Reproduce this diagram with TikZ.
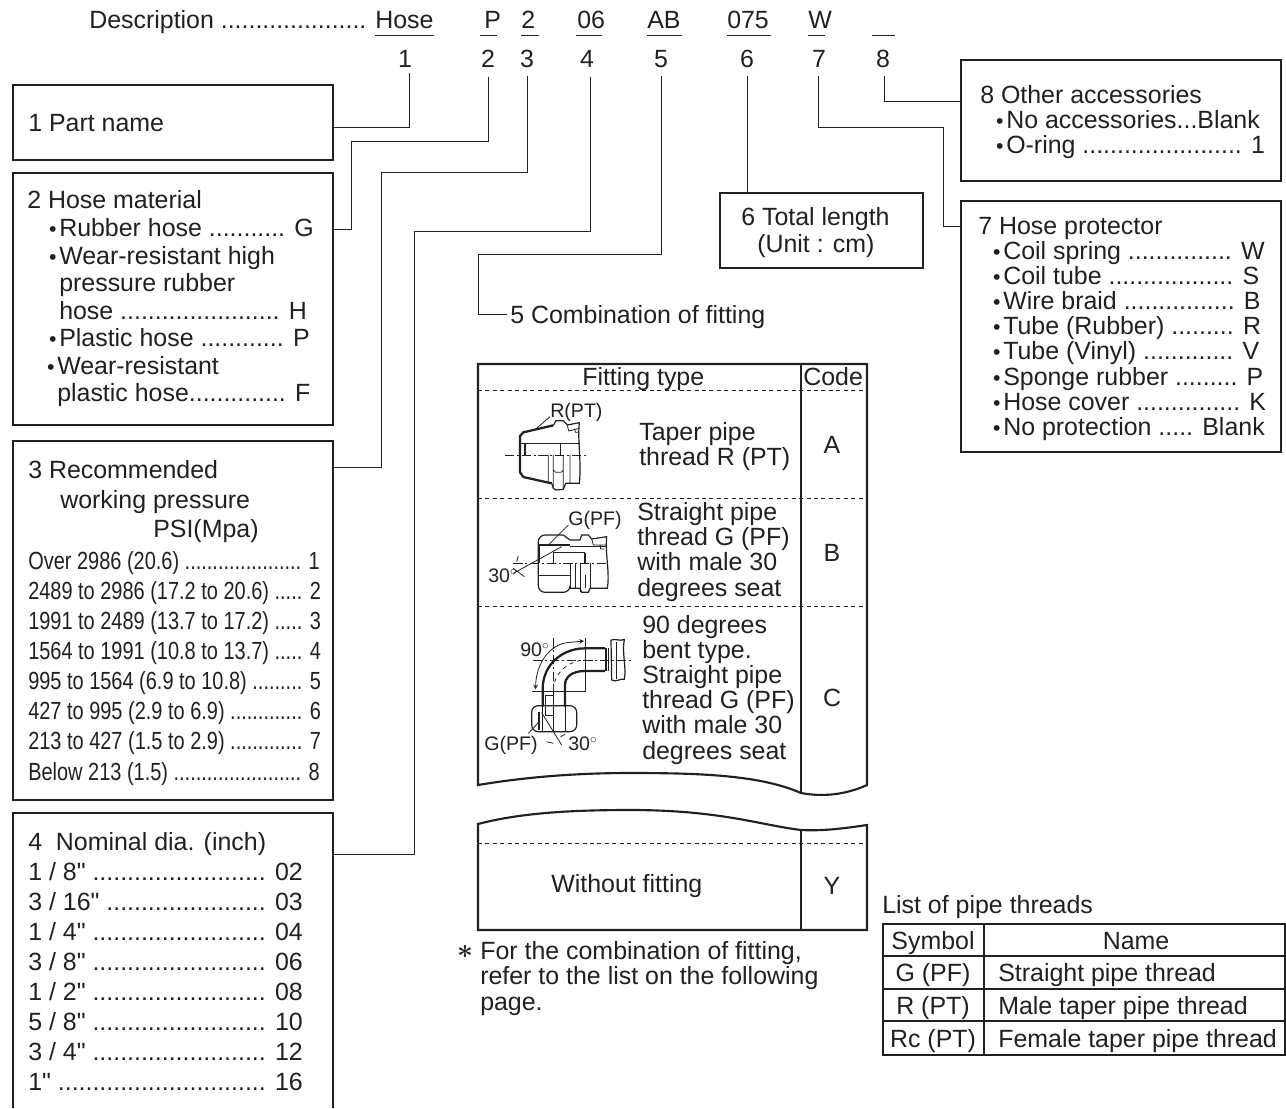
\documentclass[tikz,border=0pt]{standalone}
\usepackage{fontspec}
\setmainfont{Liberation Sans}
\newfontfamily\condfont[FakeStretch=0.805]{Liberation Sans}
\newfontfamily\nomapfont{Liberation Sans}
\usetikzlibrary{positioning,fit}
\definecolor{inkblk}{RGB}{35,31,32}
\newcommand{\hb}{\llap{{\fontsize{16}{16}\selectfont\textbullet}\hspace{2pt}}}
\newcommand{\inch}{{\nomapfont"}}

\begin{document}
\begin{tikzpicture}[x=0.75pt, y=-0.75pt, inkblk,
    txt/.style={anchor=base west, inner sep=0pt, font=\fontsize{18.7}{22}\selectfont},
    ctxt/.style={anchor=base, inner sep=0pt, font=\fontsize{18.7}{22}\selectfont},
    smalltxt/.style={anchor=base west, inner sep=0pt, font=\fontsize{14.7}{18}\selectfont},
    condtxt/.style={anchor=base west, inner sep=0pt, font=\condfont\fontsize{18.6}{22}\selectfont},
    pbox/.style={draw, line width=1.6pt, inner sep=0pt},
    conn/.style={line width=0.75pt},
    thinl/.style={line width=0.6pt},
    midl/.style={line width=0.9pt},
    boldl/.style={line width=1.7pt, line join=round},
    dashl/.style={line width=0.6pt, dash pattern=on 3pt off 2.6pt},
    cline/.style={line width=0.55pt, dash pattern=on 7pt off 2pt on 1.5pt off 2pt},
    tblb/.style={line width=1.6pt, line join=miter}]
  \useasboundingbox (0,0) rectangle (1286,1108);
%
    % heading row
    \node[txt] (descr) at (89,28) {Description .....................};
    \foreach \x/\t/\n in {375/Hose/hose, 484/P/mat, 521/2/prs, 577/06/dia, 647/AB/comb, 727/075/len, 808/W/prot}
      \node[txt] (h\n) at (\x,28) {\t};
    \foreach \a/\b/\n in {375/434/a, 480/497/b, 521/539/c, 576/602/d, 647/682/e, 727/771/f, 808/825/g, 872/895/h} {
      \node[coordinate] (ul\n) at (\a,35) {};
      \node[coordinate] (ur\n) at (\b,35) {};
      \draw[conn] (ul\n) -- (ur\n);
    }
    \foreach \x/\t in {405/1, 488/2, 527/3, 587/4, 661/5, 747/6, 819/7, 883/8}
      \node[ctxt] (n\t) at (\x,67.5) {\t};
%
    % boxes
    \node[pbox, fit={(13,85)(333,160)}] (namebox) {};
    \node[pbox, fit={(13,173)(333,425)}] (matbox) {};
    \node[pbox, fit={(13,441)(333,800)}] (prsbox) {};
    \node[pbox, fit={(720,193)(923,268)}] (lenbox) {};
    \node[pbox, fit={(961,60)(1281,181)}] (accbox) {};
    \node[pbox, fit={(961,201)(1281,452)}] (protbox) {};
    \node[coordinate] (diaA) at (13,1108) {};
    \node[coordinate] (diaB) at (13,813) {};
    \node[coordinate] (diaC) at (333,813) {};
    \node[coordinate] (diaD) at (333,1108) {};
    \draw[tblb] (diaA) -- (diaB) -- (diaC) -- (diaD);
%
    % leaders from the numbers to the boxes
    \node[coordinate] (c1a) at (409,73) {};
    \node[coordinate] (c1b) at (333,127) {};
    \draw[conn] (c1a) |- (c1b);
    \node[coordinate] (c2a) at (488,77) {};
    \node[coordinate] (c2b) at (351,141) {};
    \node[coordinate] (c2c) at (333,229) {};
    \draw[conn] (c2a) |- (c2b) |- (c2c);
    \node[coordinate] (c3a) at (527,76) {};
    \node[coordinate] (c3b) at (381,172) {};
    \node[coordinate] (c3c) at (333,467) {};
    \draw[conn] (c3a) |- (c3b) |- (c3c);
    \node[coordinate] (c4a) at (590,77) {};
    \node[coordinate] (c4b) at (414,231) {};
    \node[coordinate] (c4c) at (333,854) {};
    \draw[conn] (c4a) |- (c4b) |- (c4c);
    \node[coordinate] (c5a) at (661,76) {};
    \node[coordinate] (c5b) at (478,254) {};
    \node[txt] (combl) at (510,323) {5 Combination of fitting};
    \node[coordinate] (c5c) at (507,314) {};
    \draw[conn] (c5a) |- (c5b) |- (c5c);
    \node[coordinate] (c6a) at (747,76) {};
    \draw[conn] (c6a) -- (c6a |- lenbox.north);
    \node[coordinate] (c7a) at (818,76) {};
    \node[coordinate] (c7b) at (943,127) {};
    \node[coordinate] (c7c) at (961,226) {};
    \draw[conn] (c7a) |- (c7b) |- (c7c);
    \node[coordinate] (c8a) at (884,76) {};
    \node[coordinate] (c8b) at (961,101) {};
    \draw[conn] (c8a) |- (c8b);
%
    % box texts
    \node[txt] (namet) at (28,131) {1 Part name};
    \foreach \x/\y/\t [count=\i] in {27/208/{2 Hose material}, 59/236/{\hb Rubber hose ........... G},
        59/264/{\hb Wear-resistant high}, 59/291/{pressure rubber}, 59/319/{hose ....................... H},
        59/346/{\hb Plastic hose ............ P}, 57/374/{\hb Wear-resistant}, 57/401/{plastic hose.............. F}}
      \node[txt] (mat\i) at (\x,\y) {\t};
    \foreach \x/\y/\t [count=\i] in {28/478/3 Recommended, 60/508/working pressure, 153/537/PSI(Mpa)}
      \node[txt] (prh\i) at (\x,\y) {\t};
    \foreach \y/\t [count=\i] in {569/{Over 2986 (20.6) ..................... 1},
        599/{2489 to 2986 (17.2 to 20.6) ..... 2}, 629/{1991 to 2489 (13.7 to 17.2) ..... 3},
        659/{1564 to 1991 (10.8 to 13.7) ..... 4}, 689/{995 to 1564 (6.9 to 10.8) ......... 5},
        719/{427 to 995 (2.9 to 6.9) ............. 6}, 749/{213 to 427 (1.5 to 2.9) ............. 7},
        780/{Below 213 (1.5) ....................... 8}}
      \node[condtxt] (prs\i) at (28,\y) {\t};
    \node[txt] (diah) at (28,850) {4\ \ Nominal dia. (inch)};
    \foreach \y/\t [count=\i] in {880/{1 / 8\inch{} ......................... 02}, 910/{3 / 16\inch{} ....................... 03},
        940/{1 / 4\inch{} ......................... 04}, 970/{3 / 8\inch{} ......................... 06},
        1000/{1 / 2\inch{} ......................... 08}, 1030/{5 / 8\inch{} ......................... 10},
        1060/{3 / 4\inch{} ......................... 12}, 1090/{1\inch{} .............................. 16}}
      \node[txt] (dia\i) at (28,\y) {\t};
    \node[txt] (lent1) at (741,225) {6 Total length};
    \node[txt] (lent2) at (757,252) {(Unit : cm)};
    \node[txt] (acch) at (980,103) {8 Other accessories};
    \node[txt] (acc1) at (1006,128) {\hb No accessories...Blank};
    \node[txt] (acc2) at (1006,153) {\hb O-ring ....................... 1};
    \node[txt] (proth) at (978,234) {7 Hose protector};
    \foreach \y/\t [count=\i] in {259/{Coil spring ............... W}, 284/{Coil tube .................. S},
        309.5/{Wire braid ................ B}, 334.5/{Tube (Rubber) ......... R}, 359.5/{Tube (Vinyl) ............. V},
        385/{Sponge rubber ......... P}, 410/{Hose cover ............... K}, 435/{No protection ..... Blank}}
      \node[txt] (prot\i) at (1003,\y) {\hb \t};
%
    % fitting table
    \node[coordinate] (ftA) at (478,785) {};
    \node[coordinate] (ftB) at (478,364) {};
    \node[coordinate] (ftC) at (867,364) {};
    \node[coordinate] (ftD) at (867,785) {};
    \node[coordinate] (ftE) at (801,793) {};
    \node[coordinate] (ftF) at (801,364) {};
    \draw[tblb] (ftA) -- (ftB) -- (ftC) -- (ftD) .. controls (845,795) and (822,797) .. (ftE)
       .. controls (760,775) and (700,773) .. (630,773) .. controls (570,773) and (520,778) .. cycle;
    \draw[midl] (ftF) -- (ftE);
    \foreach \y in {390,498,606} {
      \node[coordinate] (dl\y) at (478,\y) {};
      \node[coordinate] (dr\y) at (867,\y) {};
      \draw[dashl] (dl\y) -- (dr\y);
    }
    \node[txt] (ftype) at (582,385) {Fitting type};
    \node[txt] (fcode) at (803,385) {Code};
    \foreach \x/\y/\t [count=\i] in {639/440/Taper pipe, 639/465/thread R (PT),
        637/520/Straight pipe, 637/545/thread G (PF), 637/570/with male 30, 637/596/degrees seat,
        642/633/90 degrees, 642/658/{bent type.}, 642/683/Straight pipe, 642/708/thread G (PF),
        642/733/with male 30, 642/759/degrees seat}
      \node[txt] (ft\i) at (\x,\y) {\t};
    \foreach \y/\t in {453/A, 561/B, 706/C, 894/Y}
      \node[ctxt] (code\t) at (832,\y) {\t};
%
    % continued part of the table
    \node[coordinate] (fuA) at (478,824) {};
    \node[coordinate] (fuB) at (478,930) {};
    \node[coordinate] (fuC) at (867,930) {};
    \node[coordinate] (fuD) at (867,825) {};
    \node[coordinate] (fuE) at (801,830) {};
    \node[coordinate] (fuF) at (801,930) {};
    \draw[tblb] (fuA) -- (fuB) -- (fuC) -- (fuD) .. controls (840,829) and (822,831) .. (fuE)
       .. controls (760,825) and (720,810) .. (630,810) .. controls (570,810) and (520,813) .. cycle;
    \draw[midl] (fuE) -- (fuF);
    \node[coordinate] (dl4) at (478,843) {};
    \node[coordinate] (dr4) at (867,843) {};
    \draw[dashl] (dl4) -- (dr4);
    \node[txt] (nofit) at (551,892) {Without fitting};
%
    % note
    \node[anchor=center, inner sep=0pt, font=\fontsize{22}{22}\selectfont\boldmath] (ast) at (465,952) {$\ast$};
    \foreach \y/\t [count=\i] in {959/{For the combination of fitting,}, 984/refer to the list on the following, 1010/{page.}}
      \node[txt] (note\i) at (480,\y) {\t};
%
    % list of pipe threads
    \node[txt] (plcap) at (882,913) {List of pipe threads};
    \node[pbox, fit={(883,924)(1285,1055)}] (plbox) {};
    \foreach \y in {956,989,1021} {
      \node[coordinate] (pl\y) at (883,\y) {};
      \node[coordinate] (pr\y) at (1285,\y) {};
      \draw[midl] (pl\y) -- (pr\y);
    }
    \node[coordinate] (plcol) at (984,924) {};
    \draw[midl] (plcol) -- (plcol |- plbox.south);
    \foreach \y/\t [count=\i] in {949/Symbol, 981/G (PF), 1014/R (PT), 1047/Rc (PT)}
      \node[ctxt] (sym\i) at (933,\y) {\t};
    \node[ctxt] (plname) at (1136,949) {Name};
    \foreach \y/\t [count=\i] in {981/Straight pipe thread, 1014/Male taper pipe thread, 1047/Female taper pipe thread}
      \node[txt] (plt\i) at (998,\y) {\t};
%
    % fitting R(PT)
    \node[smalltxt] (lblR) at (550,417) {R(PT)};
    \begin{scope}[shift={(470,355)}, x=0.25pt, y=-0.25pt]
      \draw[thinl] (240,185) -- (197,222);
      \draw[boldl] (250,211) -- (160,232) -- (150,243) -- (150,352) -- (160,366) -- (245,385);
      \draw[midl, line join=round] (250,211) -- (258,197) -- (280,197) -- (292,210) -- (328,203)
         .. controls (322,260) and (335,320) .. (328,385) -- (287,385) -- (280,403) -- (257,405) -- (250,400) -- (245,385);
      \draw[thinl] (292,210) -- (296,228) -- (328,220) (314,222) -- (316,232) -- (326,232);
      \draw[midl] (150,265) -- (330,265) (165,265) -- (165,300) (272,265) -- (272,300);
      \draw[thinl] (235,300) -- (235,385) (250,300) -- (250,400) (280,300) -- (280,403) (300,300) -- (300,385) (250,345) -- (257,352) -- (273,352) -- (280,345);
      \draw[cline] (105,300) -- (352,300);
    \end{scope}
%
    % fitting G(PF)
    \node[smalltxt] (lblG) at (568,525) {G(PF)};
    \node[smalltxt] (lbl30) at (488,582) {30$^{\circ}$};
    \begin{scope}[shift={(470,355)}, x=0.25pt, y=-0.25pt]
      \draw[thinl] (295,510) -- (235,570) (275,575) -- (130,655) (145,602) -- (140,620) (130,640) -- (163,665);
      \draw[midl, rounded corners=5pt] (280,540) -- (205,540) -- (205,712) -- (300,712) -- (300,700);
      \draw[midl, line join=round] (280,540) -- (300,555) -- (330,555) -- (335,540) -- (355,540) -- (365,552) -- (410,545)
         .. controls (405,600) and (420,650) .. (412,700) -- (360,700) -- (355,712) -- (335,712) -- (330,700) -- (300,700);
      \draw[boldl] (208,570) -- (208,625) (208,570) -- (300,570);
      \draw[midl] (300,575) -- (408,575) (250,593) -- (345,593) (250,593) -- (250,625) (345,593) -- (345,625);
      \draw[thinl] (205,660) -- (300,660) (300,625) -- (300,700) (315,625) -- (315,700) (330,625) -- (330,712) (360,625) -- (360,700) (345,660) -- (345,700);
      \draw[thinl] (365,552) -- (370,570) -- (408,570) (390,570) -- (392,582) -- (404,582);
      \draw[cline] (130,625) -- (415,625);
    \end{scope}
%
    % fitting 90 degrees
    \node[smalltxt] (lbl90) at (520,656) {90$^{\circ}$};
    \node[smalltxt] (lblGb) at (484,750) {G(PF)};
    \node[smalltxt] (lbl30b) at (568,750) {30$^{\circ}$};
    \begin{scope}[shift={(470,600)}, x=0.25pt, y=-0.25pt]
      \draw[thinl] (345,115) -- (345,273) -- (187,273);
      \draw[cline] (250,115) -- (250,395) (190,180) -- (485,180);
      \draw[thinl, ->, >=stealth] (290,128) .. controls (240,135) and (197,190) .. (197,268);
      \draw[thinl, ->, >=stealth] (290,128) -- (342,123);
      \draw[thinl, dashed] (250,270) .. controls (250,225) and (290,182) .. (345,180);
      \draw[boldl] (218,320) -- (218,268) .. controls (218,195) and (275,145) .. (345,145) -- (405,145);
      \draw[boldl] (285,320) -- (285,255) .. controls (285,232) and (305,213) .. (345,213) -- (405,213);
      \draw[boldl] (408,145) -- (408,213);
      \draw[midl] (415,145) -- (415,213);
      \draw[midl, line join=round] (423,120) .. controls (440,115) and (450,125) .. (463,118)
         .. controls (455,160) and (470,200) .. (463,238) .. controls (450,234) and (440,248) .. (425,240) -- cycle;
      \draw[thinl] (440,125) -- (440,238);
      \draw[midl, rounded corners=5pt] (185,317) rectangle (320,395);
      \draw[thinl] (225,285) -- (250,285) (225,285) -- (225,345) (250,285) -- (250,345) (250,345) -- (225,345);
      \draw[thinl] (218,395) -- (218,318) (250,318) -- (250,395) (285,318) -- (285,395);
      \draw[boldl] (207,335) -- (207,390);
      \draw[thinl] (175,400) -- (205,368) (215,338) -- (275,435) (230,425) -- (250,430) (272,410) -- (285,403);
    \end{scope}
  \end{tikzpicture}
\end{document}
